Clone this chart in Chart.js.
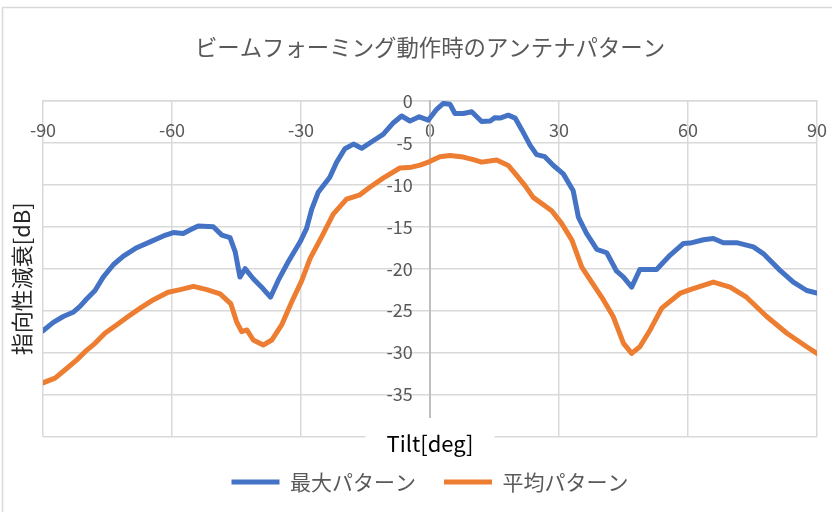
<!DOCTYPE html>
<html>
<head>
<meta charset="utf-8">
<script src="https://cdn.jsdelivr.net/npm/chart.js@4/dist/chart.umd.min.js"></script>
<style>
  html, body { margin: 0; padding: 0; background: #fff; }
  #wrap { width: 832px; height: 512px; }
</style>
</head>
<body>
<div id="wrap"><canvas id="c" width="832" height="512"></canvas></div>
<script>
// Texts
const chartTitle = 'ビームフォーミング動作時のアンテナパターン';
const xAxisTitle = 'Tilt[deg]';
const yAxisTitle = '指向性減衰[dB]';
const seriesNames = ['最大パターン', '平均パターン'];

// Tick values
const tiltTicks = [-90, -60, -30, 0, 30, 60, 90];
const dbTicks = [0, -5, -10, -15, -20, -25, -30, -35, -40];

// 最大パターン: tilt [deg] and attenuation [dB]
const maxTilt = [-90, -87.6, -85.3, -83.0, -81.4, -80.2, -77.9, -76.0, -73.6, -71.3,
  -68.2, -65.1, -62.0, -59.7, -57.4, -55.5, -53.9, -50.4, -48.4, -46.5,
  -45.3, -44.2, -43.0, -41.1, -38.8, -37.1, -35.3, -33.0, -30.2, -28.7,
  -27.5, -26.0, -23.3, -21.7, -19.8, -17.8, -15.9, -13.2, -10.9, -8.5,
  -6.6, -4.65, -2.5, -0.4, 1.55, 3.1, 4.65, 5.8, 7.75, 9.7,
  12.0, 14.0, 15.1, 16.3, 18.2, 19.8, 21.3, 23.3, 24.8, 26.7,
  28.7, 31.0, 33.3, 34.5, 36.4, 38.8, 41.1, 43.4, 45.0, 46.9,
  48.8, 52.7, 55.8, 58.9, 60.5, 63.6, 65.9, 68.2, 71.3, 75.2,
  77.5, 81.4, 84.5, 87.6, 90];
const maxDb = [-27.4, -26.4, -25.7, -25.2, -24.5, -23.8, -22.6, -21.0, -19.5, -18.5,
  -17.5, -16.8, -16.1, -15.7, -15.8, -15.3, -14.9, -15.0, -16.0, -16.3,
  -18.0, -21.0, -20.0, -21.2, -22.4, -23.4, -21.4, -19.2, -16.8, -15.2,
  -12.9, -10.9, -9.1, -7.3, -5.7, -5.15, -5.65, -4.75, -4.0, -2.6,
  -1.8, -2.4, -1.9, -2.3, -1.0, -0.3, -0.4, -1.5, -1.5, -1.3,
  -2.45, -2.4, -2.0, -2.05, -1.7, -2.05, -3.4, -5.3, -6.4, -6.65,
  -7.7, -8.7, -10.7, -13.85, -15.8, -17.7, -18.1, -20.3, -21.0, -22.2,
  -20.1, -20.1, -18.4, -17.0, -16.95, -16.55, -16.4, -16.9, -16.9, -17.4,
  -18.2, -20.2, -21.6, -22.6, -22.9];

// 平均パターン: tilt [deg] and attenuation [dB]
const avgTilt = [-90, -87.2, -84.5, -82.2, -79.8, -77.9, -75.6, -72.9, -70.2, -67.4,
  -64.3, -60.9, -58.1, -55.0, -51.9, -48.8, -46.3, -45.0, -43.8, -42.6,
  -41.1, -38.8, -36.8, -34.5, -32.2, -29.8, -27.9, -25.2, -22.5, -19.4,
  -16.3, -14.0, -10.9, -7.0, -4.3, -2.3, -0.4, 0.4, 2.3, 4.65,
  7.75, 10.1, 12.0, 15.5, 18.2, 20.2, 22.1, 24.0, 26.7, 28.3,
  30.6, 33.0, 35.3, 37.6, 40.3, 42.6, 45.0, 46.9, 48.8, 51.2,
  53.9, 58.1, 60.5, 65.9, 69.8, 73.6, 78.3, 83.0, 87.6, 90];
const avgDb = [-33.6, -33.05, -31.9, -30.9, -29.7, -28.9, -27.7, -26.7, -25.7, -24.7,
  -23.7, -22.8, -22.5, -22.1, -22.5, -23.0, -24.2, -26.3, -27.5, -27.3,
  -28.5, -29.1, -28.5, -26.7, -24.0, -21.4, -18.8, -16.2, -13.5, -11.7,
  -11.2, -10.3, -9.2, -8.0, -7.9, -7.65, -7.3, -7.1, -6.65, -6.5,
  -6.7, -7.0, -7.3, -7.05, -7.7, -8.9, -10.1, -11.5, -12.5, -13.1,
  -14.6, -16.6, -19.8, -21.6, -23.7, -25.7, -28.9, -30.1, -29.3, -27.3,
  -24.7, -22.95, -22.5, -21.6, -22.2, -23.4, -25.7, -27.7, -29.3, -30.1];

const toPoints = (xs, ys) => xs.map((x, i) => ({ x: x, y: ys[i] }));

const FONT = "'Noto Sans CJK JP', 'Noto Sans', sans-serif";
const GRID = '#d9d9d9';
const AXIS = '#bfbfbf';
const TEXT = '#595959';
const BLUE = '#4472c4';
const ORANGE = '#ed7d31';

Chart.defaults.font.family = FONT;

// Light frame around the page
const framePlugin = {
  id: 'frame',
  beforeDraw(chart) {
    const ctx = chart.ctx;
    ctx.save();
    ctx.fillStyle = '#ffffff';
    ctx.fillRect(0, 0, chart.width, chart.height);
    ctx.strokeStyle = '#d9d9d9';
    ctx.lineWidth = 1.5;
    ctx.strokeRect(2.5, 7.5, chart.width + 10, chart.height + 10);
    ctx.restore();
  }
};

// White panel behind the horizontal axis title
const titlePanelPlugin = {
  id: 'titlePanel',
  beforeDatasetsDraw(chart) {
    const ctx = chart.ctx;
    const area = chart.chartArea;
    const opts = chart.options.scales.xTitle.title;
    ctx.save();
    ctx.font = opts.font.size + 'px ' + FONT;
    const w = ctx.measureText(xAxisTitle).width;
    const cx = (area.left + area.right) / 2;
    ctx.fillStyle = '#ffffff';
    ctx.fillRect(cx - w / 2 - 21, area.bottom - 18.5, w + 42, 48);
    ctx.restore();
  }
};

const setTicks = values => scale => { scale.ticks = values.map(v => ({ value: v })); };

const lineStyle = color => ({
  borderColor: color,
  backgroundColor: color,
  borderWidth: 5,
  borderCapStyle: 'round',
  borderJoinStyle: 'round',
  pointRadius: 0,
  tension: 0,
  xAxisID: 'x',
  yAxisID: 'y'
});

new Chart(document.getElementById('c'), {
  type: 'line',
  data: {
    datasets: [
      Object.assign({ label: seriesNames[0], data: toPoints(maxTilt, maxDb) }, lineStyle(BLUE)),
      Object.assign({ label: seriesNames[1], data: toPoints(avgTilt, avgDb) }, lineStyle(ORANGE))
    ]
  },
  options: {
    responsive: false,
    animation: false,
    devicePixelRatio: 1,
    layout: { padding: { left: 2, right: 15, top: 0, bottom: 9.5 } },
    plugins: {
      title: {
        display: true,
        text: chartTitle,
        fullSize: false,
        color: TEXT,
        font: { size: 22.4, weight: 'normal' },
        padding: { top: 34, bottom: 40 }
      },
      legend: {
        position: 'bottom',
        fullSize: false,
        labels: {
          usePointStyle: true,
          pointStyle: 'line',
          pointStyleWidth: 48,
          color: TEXT,
          font: { size: 21 },
          padding: 28
        }
      },
      tooltip: { enabled: false }
    },
    scales: {
      x: {
        type: 'linear',
        axis: 'x',
        min: -90,
        max: 90,
        position: { y: 0 },
        afterBuildTicks: setTicks(tiltTicks),
        grid: { color: GRID, lineWidth: 1.5, drawTicks: true, tickLength: 15.5, tickColor: 'rgba(0,0,0,0)' },
        border: { display: true, color: GRID, width: 1.5 },
        ticks: { color: TEXT, font: { size: 18 }, maxRotation: 0, autoSkip: false }
      },
      y: {
        type: 'linear',
        axis: 'y',
        min: -40,
        max: 0,
        position: { x: 0 },
        afterBuildTicks: setTicks(dbTicks),
        grid: { color: GRID, lineWidth: 1.5, drawTicks: false },
        border: { display: true, color: AXIS, width: 2 },
        ticks: { display: false }
      },
      yLabels: {
        type: 'linear',
        axis: 'y',
        min: -40,
        max: 0,
        position: { x: -4 },
        afterBuildTicks: setTicks(dbTicks),
        grid: { display: false, drawTicks: false },
        border: { display: false },
        ticks: { color: TEXT, font: { size: 18 } }
      },
      yTitle: {
        type: 'linear',
        axis: 'y',
        position: 'left',
        stack: 'titleColumn',
        stackWeight: 0.94,
        weight: 0,
        grid: { display: false, drawTicks: false },
        border: { display: false },
        ticks: { display: false },
        title: {
          display: true,
          text: yAxisTitle,
          color: '#262626',
          font: { size: 22 },
          padding: { top: 6, bottom: 8.6 }
        }
      },
      yTitleSpacer: {
        type: 'linear',
        axis: 'y',
        position: 'left',
        stack: 'titleColumn',
        stackWeight: 0.06,
        weight: 1,
        grid: { display: false, drawTicks: false },
        border: { display: false },
        ticks: { display: false }
      },
      xTitle: {
        type: 'linear',
        axis: 'x',
        position: 'bottom',
        grid: { display: false, drawTicks: false, z: 1 },
        border: { display: false },
        ticks: { display: false },
        title: {
          display: true,
          text: xAxisTitle,
          color: '#000000',
          font: { size: 22 },
          padding: { top: -6.2, bottom: -13.2 }
        }
      }
    }
  },
  plugins: [framePlugin, titlePanelPlugin]
});
</script>
</body>
</html>
